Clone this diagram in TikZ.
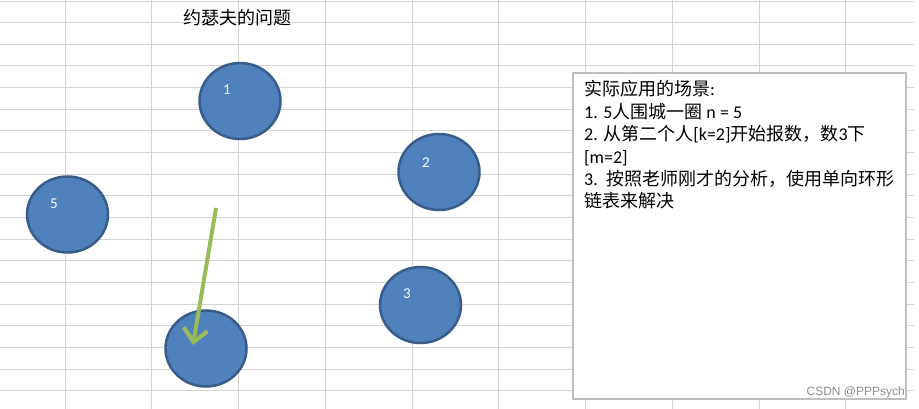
\documentclass[tikz,border=0pt]{standalone}
\usepackage{fontspec}
\setmainfont{Carlito}
\newfontfamily\cjk{Noto Sans CJK SC}
\newfontfamily\wmfont{Liberation Sans}
\usetikzlibrary{arrows.meta,shapes.geometric}
\definecolor{gridgray}{HTML}{D4D4D4}
\definecolor{ballfill}{HTML}{4F81BD}
\definecolor{balledge}{HTML}{385D8A}
\definecolor{arrowgreen}{HTML}{9BBB59}
\definecolor{boxedge}{HTML}{BFBFBF}
\definecolor{wmgray}{HTML}{8C8C8C}
\tikzset{
  gridline/.style={draw=gridgray, line width=1pt},
  ball/.style={ellipse, draw=balledge, fill=ballfill, line width=2.5pt, inner sep=0pt,
               minimum width=81pt, minimum height=76pt},
  balllabel/.style={text=white, font=\fontsize{15}{15}\selectfont, inner sep=0pt},
  greenarrow/.style={draw=arrowgreen, line width=4pt, -{Straight Barb[length=13pt,width=24pt,line width=4pt]}},
  notebox/.style={draw=boxedge, fill=white, line width=1.2pt},
}
\begin{document}
\begin{tikzpicture}[x=1pt,y=-1pt]
\useasboundingbox (0,0) rectangle (919,409);
\fill[white] (0,0) rectangle (919,409);
% spreadsheet grid
\draw[gridline] (0,1.5) -- (914,1.5);
\foreach \k in {0,...,17} {
  \draw[gridline] (0,{22.7+21.65*\k}) -- (914,{22.7+21.65*\k});
}
\foreach \k in {0,...,9} {
  \draw[gridline] ({65+86.75*\k},0) -- ({65+86.75*\k},409);
}
% title
\node[font=\cjk\fontsize{18}{18}\selectfont, inner sep=0pt] (title) at (237,18) {约瑟夫的问题};
% circles
\node[ball] (b1) at (240,101) {};
\node[ball] (b2) at (439,172) {};
\node[ball] (b5) at (67.5,214.5) {};
\node[ball] (b3) at (420.5,305) {};
\node[ball] (b4) at (206,348.5) {};
\node[balllabel] (l1) at (227,90) {1};
\node[balllabel] (l2) at (426,163) {2};
\node[balllabel] (l5) at (54,204) {5};
\node[balllabel] (l3) at (407,294) {3};
% arrow
\coordinate (astart) at (216,208);
\coordinate (aend) at (193,345);
\draw[greenarrow] (astart) -- (aend);
% note box
\draw[notebox] (573,73) rectangle (906,399);
\node[anchor=north west, inner sep=0pt, align=left,
      font=\fontsize{18}{22.4}\selectfont] (note) at (584,80.5) {%
{\cjk 实际应用的场景}:\\
1. 5{\cjk 人围城一圈} n = 5\\
2. {\cjk 从第二个人}[k=2]{\cjk 开始报数，数}3{\cjk 下}\\
\relax[m=2]\\
3.\ \ {\cjk 按照老师刚才的分析，使用单向环形}\\
{\cjk 链表来解决}};
\node[anchor=east, inner sep=0pt, text=wmgray, font=\wmfont\fontsize{12}{12}\selectfont] (wm) at (905,392) {CSDN @PPPsych};
\end{tikzpicture}
\end{document}
